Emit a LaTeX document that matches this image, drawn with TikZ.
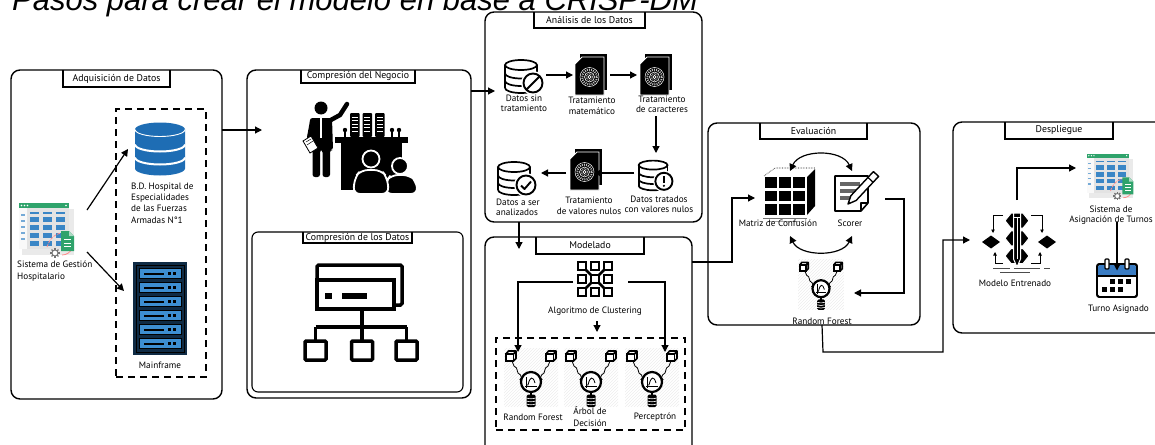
\documentclass[tikz,border=0pt]{standalone}
\usepackage{fontspec}
\setmainfont{PT Sans}
\newfontfamily\titlefont{Liberation Sans}
\usetikzlibrary{arrows.meta,patterns}

\definecolor{dbblue}{HTML}{1E6DB4}
\definecolor{racknavy}{HTML}{0F2B45}
\definecolor{rackslot}{HTML}{3D8ED1}
\definecolor{appgreen}{HTML}{2FA36B}
\definecolor{appcell}{HTML}{3A86C6}
\definecolor{appgray}{HTML}{E3E3E3}
\definecolor{calblue}{HTML}{3A7CC3}

\tikzset{
  stage/.style={draw, line width=1.4pt, rounded corners=9pt, inner sep=0pt, outer sep=0pt},
  substage/.style={draw, line width=1.1pt, rounded corners=6pt, inner sep=0pt, outer sep=0pt},
  tabline/.style={line width=1.3pt},
  tabtext/.style={font=\fontsize{9.8}{10}\selectfont, inner sep=0pt},
  lbl/.style={font=\fontsize{9.2}{10.5}\selectfont, align=center, inner sep=0pt},
  lbll/.style={font=\fontsize{9.2}{11.3}\selectfont, align=left, inner sep=0pt},
  iconbox/.style={inner sep=0pt, outer sep=0pt},
  dashbox/.style={draw, line width=1.3pt, dash pattern=on 7pt off 5pt, inner sep=0pt, outer sep=0pt},
  arr/.style={line width=1.2pt, -{Triangle[length=7pt,width=7pt]}},
  arrtwo/.style={line width=1.2pt, {Triangle[length=7pt,width=7pt]}-{Triangle[length=7pt,width=7pt]}},
  minarr/.style={line width=0.9pt, -{Triangle[length=3.5pt,width=3.5pt]}},
  % spreadsheet-like application window
  pics/appwin/.style={code={
    \fill[appgray!75] (-25,-21) rectangle (27,25);
    \fill[appgray] (-28,-27) rectangle (22,19);
    \fill[white!80!appgray] (-28,-22) rectangle (-20,19);
    \fill[appgreen] (-28,-27) rectangle (22,-22);
    \foreach \u in {-25.5,-22.5,-19.5,19} \fill[white] (\u,-24.5) circle (0.8);
    \foreach \v in {-16,-10,-4,2,8} \fill[appcell!70] (-26,\v) rectangle (-22.5,\v+1.5);
    \foreach \u in {-17,-4,9} {
      \fill[appcell] (\u,-18.5) rectangle (\u+9,-16.5);
      \foreach \v in {-13,-5,3,11} \fill[appcell] (\u,\v) rectangle (\u+9,\v+5);
    }
    \draw[red!45, line width=0.8pt, dash pattern=on 3pt off 1.2pt] (0,17) .. controls (3,8) and (8,4) .. (14,3);
    \draw[red!45, line width=0.8pt] (15,25) .. controls (20,25) and (23,22) .. (25,19);
    \fill[appgreen] (14,1) -- (22,1) -- (27,6) -- (27,21) -- (14,21) -- cycle;
    \fill[white!60!appgreen] (22,1) -- (22,6) -- (27,6) -- cycle;
    \foreach \v in {9,12.5,16} \fill[white] (17,\v) rectangle (24,\v+1.3);
    \begin{scope}[shift={(8,23)}]
      \foreach \a in {0,45,...,315} \draw[black!55, line width=1.3pt, rotate=\a] (2.8,0) -- (4.8,0);
      \draw[black!55, line width=0.9pt, fill=white] (0,0) circle (3);
      \fill[white] (0,0) circle (1.3);
    \end{scope}
  }},
  % solid blue database
  pics/dbstack/.style={code={
    \fill[dbblue] (-25,-19) -- (-25,20) arc[start angle=180,end angle=0,x radius=25,y radius=7]
      -- (25,-19) arc[start angle=0,end angle=-180,x radius=25,y radius=7] -- cycle;
    \draw[white, line width=0.9pt] (-25,-19) arc[start angle=180,end angle=0,x radius=25,y radius=7];
    \foreach \v in {-4,9} \draw[white, line width=2pt] (-25,\v) arc[start angle=180,end angle=0,x radius=25,y radius=7];
  }},
  % server rack
  pics/rack/.style={code={
    \fill[racknavy] (-27,-46.5) rectangle (27,46.5);
    \draw[black, line width=1pt] (-24,-43.5) rectangle (24,43.5);
    \foreach \i in {0,...,5} {
      \pgfmathsetmacro\t{-40+\i*14}
      \filldraw[fill=rackslot, draw=black, line width=0.6pt] (-21,\t) rectangle (21,\t+10);
      \fill[black] (-16,\t+4) rectangle (4,\t+6.5);
      \fill[black] (8,\t+3.5) rectangle (11,\t+6.5);
      \fill[black] (13,\t+3.5) rectangle (16,\t+6.5);
    }
  }},
  % outlined database
  pics/dbline/.style={code={
    \draw[line width=1.7pt] (-1,-11) ellipse [x radius=16, y radius=5];
    \draw[line width=1.7pt] (-17,-11) -- (-17,12);
    \draw[line width=1.7pt] (15,-11) -- (15,12);
    \foreach \v in {-2.5,5,12} \draw[line width=1.7pt] (-17,\v) arc[start angle=180,end angle=0,x radius=16,y radius=5];
  }},
  pics/badgeban/.style={code={
    \fill[white] (11,7) circle (12);
    \draw[line width=1.9pt] (11,7) circle (9.5);
    \draw[line width=1.9pt] (17.7,0.3) -- (4.3,13.7);
  }},
  pics/badgeok/.style={code={
    \fill[white] (11,7) circle (12);
    \draw[line width=1.9pt] (11,7) circle (9.5);
    \draw[line width=1.9pt, line join=round] (6,7.5) -- (9.5,11) -- (16,3.5);
  }},
  pics/badgewarn/.style={code={
    \fill[white] (11,7) circle (12);
    \draw[line width=1.9pt] (11,7) circle (9.5);
    \draw[line width=2pt] (11,1.5) -- (11,8.5);
    \fill (11,12) circle (1.3);
  }},
  % dark page with a gear emblem
  pics/gearpage/.style={code={
    \fill (-11,-21) -- (16,-21) -- (16,15) -- (-11,15) -- cycle;
    \filldraw[fill=black, draw=white, line width=0.9pt] (-9,-18) -- (13,-18) -- (13,20) -- (-16,20) -- (-16,-11) -- cycle;
    \begin{scope}[shift={(-1.5,2)}]
      \draw[white, line width=0.5pt] (0,0) circle (9.5);
      \draw[black!25, line width=2pt, dash pattern=on 1pt off 1.1pt] (0,0) circle (7.3);
      \draw[white, line width=0.6pt] (0,0) circle (5);
      \draw[black!35, line width=1.2pt, dash pattern=on 0.8pt off 0.8pt] (0,0) circle (3.3);
      \draw[white, line width=0.6pt] (0,0) circle (1.6);
    \end{scope}
  }},
  % clustering grid
  pics/cluster/.style={code={
    \draw[line width=2.6pt] (-13,-13) -- (13,13) (-13,13) -- (13,-13);
    \foreach \u in {-13,0,13} \foreach \v in {-13,0,13}
      \filldraw[fill=white, line width=1.8pt] (\u-3.8,\v-3.8) rectangle (\u+3.8,\v+3.8);
  }},
  % model node: two inputs, activation, storage
  pics/neuron/.style={code={
    \fill[pattern=north east lines, pattern color=black!7] (-27,-32) rectangle (27,26);
    \foreach \s in {-1,1} {
      \draw[line width=0.8pt] (\s*19,-19) -- (\s*17,-14) -- (\s*14.5,-12) -- (\s*13,-7) -- (\s*10.5,-5) -- (\s*9,-1);
      \filldraw[fill=white, line width=0.8pt] (\s*9.6,-0.5) circle (1.4);
      \begin{scope}[shift={(\s*20,-24)}]
        \filldraw[fill=white, line width=1.6pt] (-5,-2) rectangle (2.5,5);
        \draw[line width=1.6pt, line join=round] (-5,-2) -- (-2.5,-5) -- (5,-5) -- (5,2.5) -- (2.5,5) (2.5,-2) -- (5,-5);
      \end{scope}
    }
    \filldraw[fill=white, line width=2.2pt] (0,2) circle (10);
    \draw[line width=0.5pt] (-5,8) -- (-5,-3) (-6,6) -- (6,6);
    \draw[line width=0.8pt] (-5,5) -- (-3,5) .. controls (-1,-4) and (2,-4) .. (4,3);
    \draw[line width=1.2pt] (0,12) -- (0,15);
    \fill[rounded corners=1.5pt] (-4.5,14.5) rectangle (4.5,27);
    \foreach \v in {18,21,24} \draw[white, line width=0.6pt] (-4.5,\v) .. controls (-2,\v+1) and (2,\v+1) .. (4.5,\v);
  }},
}

\begin{document}
\begin{tikzpicture}[x=1pt, y=-1pt]
\useasboundingbox (0,0) rectangle (1155,444);
\begin{scope}
\clip (0,0) rectangle (1155,444);

% ---------------- title ----------------
\node[anchor=base west, inner sep=0pt, font=\titlefont\itshape\fontsize{31}{31}\selectfont] (title) at (12,11) {Pasos para crear el modelo en base a CRISP-DM};

% ---------------- stage frames ----------------
\node[stage, minimum width=211pt, minimum height=329pt] (adq) at (116.5,234.5) {};
\draw[tabline] (63,70) -- (63,87) -- (170,87) -- (170,70);
\node[tabtext] (adqt) at (116.5,78.5) {Adquisición de Datos};

\node[stage, minimum width=224pt, minimum height=328pt] (neg) at (359,234) {};
\draw[tabline] (301,70) -- (301,83) -- (415,83) -- (415,70);
\node[tabtext] (negt) at (358,76.5) {Compresión del Negocio};

\node[substage, minimum width=211pt, minimum height=160pt] (cdat) at (357.5,312) {};
\draw[line width=1.1pt] (303,232) -- (303,243) -- (412,243) -- (412,232);
\node[tabtext] (cdatt) at (357.5,237.5) {Compresión de los Datos};

\node[stage, minimum width=217pt, minimum height=210pt] (ana) at (593.5,117) {};
\draw[tabline] (534,12) -- (534,28) -- (645,28) -- (645,12);
\node[tabtext] (anat) at (589.5,20) {Análisis de los Datos};

\node[stage, minimum width=207pt, minimum height=233pt] (mod) at (588.5,353.5) {};
\draw[tabline] (536,237) -- (536,254) -- (644,254) -- (644,237);
\node[tabtext] (modt) at (590,245.5) {Modelado};

\node[stage, minimum width=212pt, minimum height=202pt] (eva) at (814,224) {};
\draw[tabline] (760,123) -- (760,139) -- (867,139) -- (867,123);
\node[tabtext] (evat) at (813.5,131) {Evaluación};

\node[stage, minimum width=222pt, minimum height=211pt] (des) at (1064,227.5) {};
\draw[tabline] (1005,122) -- (1005,139) -- (1113,139) -- (1113,122);
\node[tabtext] (dest) at (1059,130.5) {Despliegue};

% ---------------- data acquisition ----------------
\node[dashbox, minimum width=90pt, minimum height=268pt] (srcbox) at (161,243) {};
\node[iconbox, minimum width=56pt, minimum height=54pt] (appic) at (47,230) {};
\pic at (47,230) {appwin};
\node[lbll, anchor=west] (applbl) at (17,271) {Sistema de Gestión\\Hospitalario};
\node[iconbox, minimum width=50pt, minimum height=53pt] (bddb) at (160,148.5) {};
\pic at (160,148.5) {dbstack};
\node[lbll, anchor=west] (bdlbl) at (131,203) {B.D. Hospital de\\Especialidades\\de las Fuerzas\\Armadas N°1};
\node[iconbox, minimum width=54pt, minimum height=93pt] (rack) at (160,308.5) {};
\pic at (160,308.5) {rack};
\node[lbl] (racklbl) at (160,365) {Mainframe};

\draw[arr] ([shift={(12,-20)}]appic.east) -- ([shift={(-7,0.5)}]bddb.west);
\draw[arr] ([shift={(12,22)}]appic.east) -- ([shift={(-9,-17.5)}]rack.west);

% ---------------- business understanding ----------------
\node[iconbox, minimum width=114pt, minimum height=90pt] (bizic) at (360,147) {};
\fill (321,108) circle (6.5);
\fill[rounded corners=2.5pt] (310,118) -- (332,118) -- (333,150) -- (330,150) -- (330,177) -- (322.5,177) -- (322.5,150) -- (320,150) -- (320,177) -- (312.5,177) -- (312.5,150) -- (309,150) -- cycle;
\draw[line width=4.5pt, line cap=round, line join=round] (329,121) -- (340,115) -- (347,104);
\draw[line width=4pt, line cap=round, line join=round] (312,121) -- (309,137) -- (313,143);
\draw[white, line width=1.2pt] (321,118) -- (321,138);
\filldraw[fill=white, draw=black, line width=0.8pt] (303,141) -- (311,136) -- (318,148) -- (310,153) -- cycle;
\draw[line width=0.5pt] (306,142) -- (311,139) (307,145) -- (313,141);
\fill (335,137) rectangle (408,143);
\fill (341,143) rectangle (402,190);
\foreach \sx in {350,362.5,375} {
  \fill[rounded corners=1pt] (\sx,113) rectangle (\sx+9.5,137);
  \foreach \sy in {117,120.5,...,134} \draw[white, line width=0.7pt] (\sx+1.8,\sy) -- (\sx+7.7,\sy);
}
\foreach \mx in {345,392,399} {
  \draw[line width=1.2pt] (\mx,131) -- (\mx,137);
  \fill (\mx,130) circle (2.2);
}
\filldraw[fill=black, draw=white, line width=1.8pt] (400,166) circle (8);
\filldraw[fill=black, draw=white, line width=1.8pt, rounded corners=7pt] (385,194) -- (386,181) -- (391,175) -- (410,175) -- (416,181) -- (418,194) -- cycle;
\filldraw[fill=black, draw=white, line width=1.8pt] (371,159) circle (8.5);
\filldraw[fill=black, draw=white, line width=1.8pt, rounded corners=7pt] (353,194) -- (355,177) -- (361,170) -- (381,170) -- (387,177) -- (389,194) -- cycle;

% ---------------- data understanding ----------------
\node[iconbox, minimum width=115pt, minimum height=99pt] (dataic) at (360.5,312.5) {};
\draw[line width=3.5pt, rounded corners=1.5pt] (317,265) rectangle (402,305);
\filldraw[fill=white, line width=3.5pt] (317,280) rectangle (394,309);
\fill (325,293) rectangle (332,299);
\fill (342,293) rectangle (367,299);
\draw[line width=3.5pt] (362,311) -- (362,327) (315.5,327) -- (406.5,327) (315.5,327) -- (315.5,341) (362,327) -- (362,341) (406.5,327) -- (406.5,341);
\foreach \bx in {315.5,362,406.5} \draw[line width=3.5pt, rounded corners=1pt] (\bx-10.5,341) rectangle (\bx+10.5,360);

% ---------------- data analysis ----------------
\node[iconbox, minimum width=40pt, minimum height=34pt] (dsin) at (522,76) {};
\pic at (522,76) {dbline}; \pic at (522,76) {badgeban};
\node[lbl] (dsinlbl) at (524,103.5) {Datos sin\\tratamiento};

\node[iconbox, minimum width=32pt, minimum height=40pt] (tmat) at (591,75) {};
\pic at (591,75) {gearpage};
\node[lbl] (tmatlbl) at (592,106) {Tratamiento\\matemático};

\node[iconbox, minimum width=32pt, minimum height=40pt] (tcar) at (656,75) {};
\pic at (656,75) {gearpage};
\node[lbl] (tcarlbl) at (662,104.5) {Tratamiento\\de caracteres};

\node[iconbox, minimum width=36pt, minimum height=30pt] (dtn) at (654,175) {};
\pic[scale=0.9] at (654,175) {dbline}; \pic[scale=0.9] at (654,175) {badgewarn};
\node[lbl] (dtnlbl) at (659,204.5) {Datos tratados\\con valores nulos};

\node[iconbox, minimum width=32pt, minimum height=40pt] (tnul) at (586,170) {};
\pic at (586,170) {gearpage};
\node[lbl] (tnullbl) at (589,206) {Tratamiento\\de valores nulos};

\node[iconbox, minimum width=40pt, minimum height=34pt] (dana) at (515,178) {};
\pic at (515,178) {dbline}; \pic at (515,178) {badgeok};
\node[lbll, anchor=west, font=\fontsize{9.2}{10}\selectfont] (danalbl) at (496,207.5) {Datos a ser\\analizados};

\draw[arr] ([xshift=4pt]dsin.east |- tmat.west) -- ([xshift=-2pt]tmat.west);
\draw[arr] ([xshift=3pt]tmat.east) -- ([xshift=-3pt]tcar.west);
\draw[arr] ([yshift=-3pt]tcarlbl.south -| tcar.center) -- ([yshift=7pt]dtn.north -| tcar.center);
\draw[arr] ([xshift=-2pt]dtn.west |- 0,173) -- ([xshift=-8pt]tnul.east |- 0,173);
\draw[arr] ([xshift=-4pt]tnul.west |- 0,173) -- ([xshift=6pt]dana.east |- 0,173);

% ---------------- modelling ----------------
\draw[arr] ([xshift=-74.5pt]ana.south) -- ([shift={(-69.5,12)}]mod.north);
\node[iconbox, minimum width=36pt, minimum height=36pt] (clust) at (595,279) {};
\pic at (595,279) {cluster};
\node[lbl] (clustlbl) at (595,311) {Algoritmo de Clustering};
\node[dashbox, minimum width=189pt, minimum height=92pt] (algbox) at (590.5,384) {};

\node[iconbox, minimum width=54pt, minimum height=58pt] (nrf) at (531,376) {};
\pic at (531,380) {neuron};
\node[iconbox, minimum width=54pt, minimum height=58pt] (nad) at (591,376) {};
\pic at (591,380) {neuron};
\node[iconbox, minimum width=54pt, minimum height=58pt] (npc) at (652,376) {};
\pic at (652,380) {neuron};
\node[lbl] (rflbl) at (533,417) {Random Forest};
\node[lbl, font=\fontsize{9.2}{12}\selectfont] (adlbl) at (590,416.5) {Árbol de\\Decisión};
\node[lbl] (pclbl) at (655,417) {Perceptrón};

\draw[arr] ([xshift=-22pt]clust.center |- 0,282) -| ([yshift=-14pt]algbox.north -| 518,0);
\draw[arr] ([xshift=33pt]clust.center |- 0,282) -| ([yshift=-14pt]algbox.north -| 665,0);
\draw[arr] ([shift={(2,6)}]clustlbl.south) -- ([shift={(6.5,-6)}]algbox.north);

% ---------------- evaluation ----------------
\node[iconbox, minimum width=52pt, minimum height=52pt] (confm) at (789,195) {};
\draw[densely dotted, line width=0.6pt] (764,176) -- (775,168) -- (815,168);
\fill (807,177) -- (815,169) -- (815,206) -- (807,215) -- cycle;
\foreach \cx in {765,779,793} \foreach \cy in {177,190.5,204} \fill (\cx,\cy) rectangle (\cx+11.5,\cy+10.5);
\draw[black!55, line width=0.8pt] (763,218) -- (807,218);
\draw[black!35, line width=0.6pt] (768,221) -- (800,221);
\node[lbl] (confmlbl) at (778,223) {Matriz de Confusión};

\node[iconbox, minimum width=44pt, minimum height=40pt] (scorer) at (852,192) {};
\draw[line width=1.6pt, fill=white, line join=round] (835,176) -- (868,176) -- (868,203) -- (861,211) -- (835,211) -- cycle;
\draw[line width=1.2pt, line join=round] (861,211) -- (861,203) -- (868,203);
\fill[black!60] (840,182) rectangle (860,185.5);
\fill[black!60] (840,189) rectangle (856,192.5);
\fill[black!60] (840,196) rectangle (852,199.5);
\filldraw[fill=white, line width=1.4pt, line join=round] (848,204) -- (856.1,200.5) -- (878.6,176.4) -- (873.4,171.6) -- (850.9,195.7) -- cycle;
\draw[line width=1.2pt] (873.1,182.2) -- (867.9,177.4);
\fill (848,204) -- (849.9,201.7) -- (850.3,203.3) -- cycle;
\node[lbl] (scorerlbl) at (850,223) {Scorer};

\draw[arrtwo] (790,171) .. controls (800,149) and (842,149) .. (852,171);
\draw[arrtwo] (790,236) .. controls (800,257) and (842,257) .. (852,236);

\node[iconbox, minimum width=46pt, minimum height=46pt] (rfev) at (821,287) {};
\pic[scale=0.85] at (821,287) {neuron};
\node[lbl] (rfevlbl) at (822,321) {Random Forest};

\draw[arr] (mod.east |- 0,262) -- (732,262) |- ([xshift=-8pt]confm.west |- 0,198);
\draw[arr] ([xshift=11pt]scorer.east |- 0,199) -- (904,199) |- ([xshift=33pt]rfev.center |- 0,293);

% ---------------- deployment ----------------
\node[iconbox, minimum width=76pt, minimum height=56pt] (trained) at (1018,240) {};
\foreach \hy in {220.7,238.3,256} \filldraw[fill=black, draw=white, line width=1pt] (1005,\hy) -- (1011,\hy-7.5) -- (1023,\hy-7.5) -- (1029,\hy) -- (1023,\hy+7.5) -- (1011,\hy+7.5) -- cycle;
\filldraw[fill=black, draw=white, line width=1pt, line join=round] (1013.5,213) -- (1020.5,213) -- (1020.5,259) -- (1017,267) -- (1013.5,259) -- cycle;
\draw[white, line width=0.8pt] (1013.5,217) -- (1020.5,217) (1017,217) -- (1017,259);
\fill (982,242) -- (991,235.5) -- (1000,242) -- (991,248.5) -- cycle;
\fill (1038,242) -- (1047,235.5) -- (1056,242) -- (1047,248.5) -- cycle;
\draw[minarr] (1003,215) -- (993,215) -- (993,233);
\draw[minarr] (1003,263) -- (995,263) -- (995,252);
\draw[minarr] (1031,215) -- (1042,215) -- (1042,233);
\draw[minarr] (1031,263) -- (1040,263) -- (1040,252);
\draw[black!70, line width=0.8pt] (993,268) -- (1010,268) (1014,268) -- (1040,268) (1044,268) -- (1050,268);
\draw[black!70, line width=0.8pt] (1000,272) -- (1030,272);
\node[lbl] (trainedlbl) at (1015,283) {Modelo Entrenado};

\node[iconbox, minimum width=47pt, minimum height=45pt] (sysic) at (1110.5,176.5) {};
\pic[scale=0.85] at (1110.5,176.5) {appwin};
\node[lbl] (syslbl) at (1111,215) {Sistema de\\Asignación de Turnos};

\node[iconbox, minimum width=40pt, minimum height=37pt] (cal) at (1117,280) {};
\filldraw[fill=white, line width=1.8pt, rounded corners=2.5pt] (1097,264) rectangle (1137,297);
\fill[calblue, rounded corners=2pt] (1098,265) rectangle (1136,276);
\draw[line width=1.8pt, rounded corners=2.5pt] (1097,264) rectangle (1137,297);
\draw[line width=1.2pt] (1097,276) -- (1137,276);
\foreach \rx in {1107,1127} \filldraw[fill=white, line width=1.2pt, rounded corners=1pt] (\rx-2,259) rectangle (\rx+2,269);
\foreach \qx in {1110,1118,1126} \fill (\qx,279) rectangle (\qx+5,284);
\foreach \qx in {1102,1110,1118} \fill (\qx,287) rectangle (\qx+5,292);
\node[lbl] (callbl) at (1118.5,309) {Turno Asignado};

\draw[arr] ([xshift=-1pt]trained.north |- 0,200) -- (1017,168) -- ([xshift=-11pt]sysic.west |- 0,168);
\draw[arr] ([yshift=3pt]syslbl.south -| cal.center) -- ([yshift=-9pt]cal.north);
\draw[arr] (rfevlbl.south |- eva.south) -- (823,352) -- (943,352) |- ([xshift=-10pt]trained.west |- 0,240);

% ---------------- links between stages ----------------
\draw[arr] (adq.east |- 0,130) -- ([xshift=15pt]neg.west |- 0,130);
\draw[arr] (neg.east |- 0,91) -- ([xshift=10pt]ana.west |- 0,91);

\end{scope}
\end{tikzpicture}
\end{document}
